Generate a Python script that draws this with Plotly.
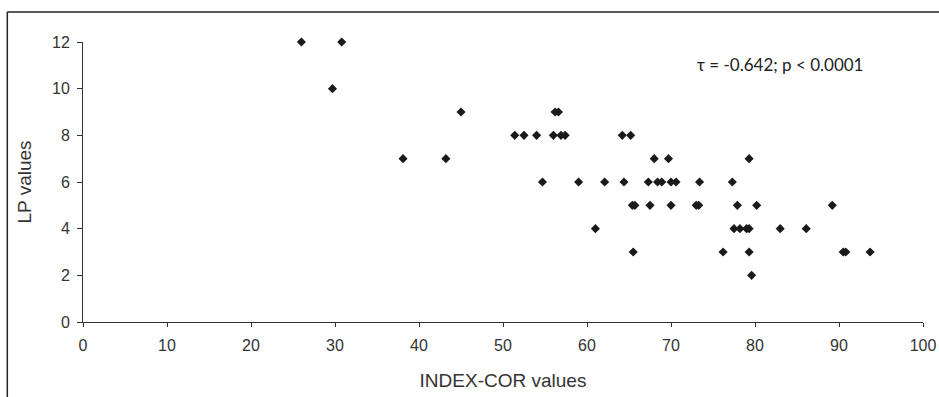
import plotly.graph_objects as go

# INDEX-COR values (x) and LP values (y)
index_cor = [
    26.0, 30.8,
    29.7,
    45.0, 56.2, 56.6,
    51.4, 52.5, 54.0, 56.0, 56.9, 57.4, 64.2, 65.2,
    38.1, 43.2, 68.0, 69.7, 79.3,
    54.7, 59.0, 62.1, 64.4, 67.3, 68.4, 68.9, 70.0, 70.6, 73.4, 77.3,
    65.4, 65.7, 67.5, 70.0, 73.0, 73.3, 77.9, 80.2, 89.2,
    61.0, 77.5, 78.2, 79.0, 79.3, 83.0, 86.1,
    65.5, 76.2, 79.3, 90.5, 90.8, 93.7,
    79.6,
]
lp_values = [
    12, 12,
    10,
    9, 9, 9,
    8, 8, 8, 8, 8, 8, 8, 8,
    7, 7, 7, 7, 7,
    6, 6, 6, 6, 6, 6, 6, 6, 6, 6, 6,
    5, 5, 5, 5, 5, 5, 5, 5, 5,
    4, 4, 4, 4, 4, 4, 4,
    3, 3, 3, 3, 3, 3,
    2,
]
x_ticks = [0, 10, 20, 30, 40, 50, 60, 70, 80, 90, 100]
y_ticks = [0, 2, 4, 6, 8, 10, 12]
stat_label = "τ = -0.642; p < 0.0001"

axis_color = "#333333"
text_color = "#333333"
font_family = "Liberation Sans, Arial, sans-serif"

fig = go.Figure()
fig.add_trace(go.Scatter(
    x=index_cor, y=lp_values, mode="markers",
    marker=dict(symbol="diamond", size=7, color="#1a1a1a", line=dict(width=0)),
    cliponaxis=False, showlegend=False,
))

fig.update_layout(
    width=939, height=397,
    margin=dict(l=83, r=16, t=42, b=75, autoexpand=False),
    paper_bgcolor="white", plot_bgcolor="white",
    font=dict(family=font_family, size=16, color=text_color),
    xaxis=dict(
        range=[0, 100], tickvals=x_ticks, ticktext=[str(v) for v in x_ticks],
        showgrid=False, zeroline=False, showline=True, linecolor=axis_color, linewidth=1,
        ticks="outside", ticklen=4, tickcolor=axis_color, tickwidth=1,
        ticklabelstandoff=5, automargin=False,
        tickfont=dict(size=16, color=text_color),
        title=dict(text="INDEX-COR values", font=dict(size=19, color=text_color), standoff=20),
    ),
    yaxis=dict(
        range=[0, 12], tickvals=y_ticks, ticktext=[str(v) for v in y_ticks],
        showgrid=False, zeroline=False, showline=True, linecolor=axis_color, linewidth=1,
        ticks="outside", ticklen=5, tickcolor=axis_color, tickwidth=1,
        ticklabelstandoff=4, automargin=False,
        tickfont=dict(size=16, color=text_color),
        title=dict(text="LP values", font=dict(size=19, color=text_color), standoff=15),
    ),
    annotations=[dict(
        text=stat_label, xref="paper", yref="paper", x=0.83, y=0.918,
        xanchor="center", yanchor="middle", showarrow=False,
        font=dict(family="Lato, Open Sans, sans-serif", size=17, color="#222222"),
    )],
    shapes=[
        dict(type="line", xref="paper", yref="paper", x0=-0.0901, x1=-0.0901, y0=1.107, y1=-0.27,
             line=dict(color="#222222", width=1.5)),
        dict(type="line", xref="paper", yref="paper", x0=-0.0901, x1=1.02, y0=1.107, y1=1.107,
             line=dict(color="#222222", width=1.5)),
    ],
)

fig.write_html(
    "out.html",
    config={"displayModeBar": False},
    post_script="document.body.style.margin='0';document.body.style.overflow='hidden';",
)
